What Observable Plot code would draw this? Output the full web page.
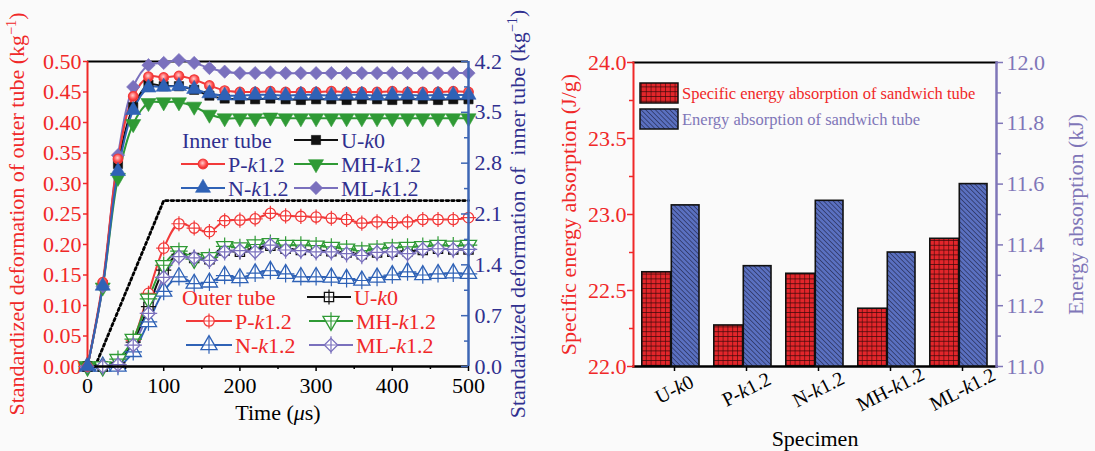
<!DOCTYPE html>
<html><head><meta charset="utf-8">
<script src="https://cdn.jsdelivr.net/npm/d3@7"></script>
<script src="https://cdn.jsdelivr.net/npm/@observablehq/plot@0.6"></script>
<style>
html,body{margin:0;padding:0;background:#fafafa;}
#wrap{position:relative;width:1095px;height:451px;overflow:hidden;}
#wrap svg{position:absolute;top:0;overflow:visible;}
</style></head><body>
<svg width="0" height="0" style="position:absolute">
<defs>
<pattern id="redGrid" patternUnits="userSpaceOnUse" width="4.8" height="4.8">
<rect width="4.8" height="4.8" fill="#e3262b"/>
<path d="M0,0H4.8M0,0V4.8" stroke="#3a0808" stroke-width="1.2"/>
</pattern>
<pattern id="blueHatch" patternUnits="userSpaceOnUse" width="3.4" height="3.4" patternTransform="rotate(-45)">
<rect width="3.4" height="3.4" fill="#5a70c0"/>
<path d="M0,0V3.4" stroke="#151530" stroke-width="1"/>
</pattern>
<radialGradient id="ballRed" cx="45%" cy="40%" r="60%">
<stop offset="0%" stop-color="#ffd0d0"/>
<stop offset="55%" stop-color="#ff5a5a"/>
<stop offset="100%" stop-color="#e82020"/>
</radialGradient>
</defs></svg>
<div id="wrap"></div>
<script>
// ---------------- data ----------------
const time = [0,20,40,60,80,100,120,140,160,180,200,220,240,260,280,300,320,340,360,380,400,420,440,460,480,500];
const names = ["U-k0","P-k1.2","N-k1.2","MH-k1.2","ML-k1.2"];
// inner tube (right axis, kg^-1)
const innerU  = [0,1.12,2.79,3.57,3.88,3.86,3.86,3.81,3.73,3.69,3.68,3.68,3.69,3.68,3.67,3.68,3.68,3.67,3.68,3.68,3.67,3.68,3.68,3.67,3.68,3.68];
const innerP  = [0,1.16,2.86,3.72,3.99,3.98,4.00,3.95,3.87,3.80,3.78,3.78,3.79,3.78,3.78,3.78,3.79,3.78,3.78,3.78,3.79,3.78,3.78,3.78,3.79,3.78];
const innerN  = [0,1.11,2.69,3.53,3.84,3.85,3.86,3.82,3.76,3.73,3.73,3.74,3.74,3.73,3.74,3.74,3.73,3.74,3.74,3.73,3.74,3.74,3.73,3.74,3.74,3.74];
const innerMH = [0,1.09,2.60,3.34,3.63,3.64,3.64,3.58,3.47,3.42,3.42,3.42,3.43,3.42,3.42,3.42,3.42,3.42,3.42,3.42,3.42,3.42,3.42,3.42,3.42,3.42];
const innerML = [0,1.10,2.91,3.85,4.15,4.18,4.22,4.18,4.11,4.06,4.04,4.04,4.05,4.04,4.04,4.04,4.04,4.04,4.04,4.04,4.04,4.04,4.04,4.04,4.04,4.04];
// outer tube (left axis, kg^-1)
const outerU  = [0,0,0.006,0.040,0.098,0.158,0.184,0.178,0.176,0.190,0.188,0.193,0.198,0.193,0.191,0.190,0.189,0.187,0.184,0.187,0.188,0.189,0.191,0.193,0.192,0.192];
const outerP  = [0,0,0.003,0.043,0.120,0.194,0.234,0.227,0.221,0.239,0.240,0.242,0.251,0.247,0.246,0.245,0.243,0.241,0.235,0.237,0.236,0.237,0.241,0.241,0.241,0.244];
const outerN  = [0,0,0,0.024,0.073,0.123,0.147,0.136,0.138,0.149,0.145,0.153,0.157,0.152,0.147,0.147,0.146,0.144,0.141,0.146,0.150,0.155,0.150,0.152,0.153,0.152];
const outerMH = [0,0,0.012,0.045,0.111,0.166,0.189,0.176,0.179,0.197,0.195,0.200,0.202,0.199,0.199,0.198,0.196,0.193,0.190,0.193,0.195,0.196,0.197,0.199,0.198,0.199];
const outerML = [0,0,0.003,0.035,0.087,0.146,0.180,0.178,0.174,0.188,0.190,0.188,0.199,0.191,0.190,0.188,0.188,0.185,0.182,0.187,0.188,0.185,0.192,0.193,0.192,0.192];
// dotted reference line
const refT = [10,100,500];
const refV = [0,0.272,0.272];
// ticks
const outerTicks = [0,0.05,0.10,0.15,0.20,0.25,0.30,0.35,0.40,0.45,0.50];
const innerTicks = [0,0.7,1.4,2.1,2.8,3.5,4.2];
const innerMinor = [0.35,1.05,1.75,2.45,3.15,3.85];
const timeTicks = [0,100,200,300,400,500];
const timeMinor = [50,150,250,350,450];
// bar chart
const specimens = ["U-k0","P-k1.2","N-k1.2","MH-k1.2","ML-k1.2"];
const sea = [22.62,22.27,22.61,22.38,22.84];   // J/g
const ea  = [11.53,11.33,11.545,11.375,11.60]; // kJ
const seaTicks = [22.0,22.5,23.0,23.5,24.0];
const seaMinor = [22.25,22.75,23.25,23.75];
const eaTicks = [11.0,11.2,11.4,11.6,11.8,12.0];
const eaMinor = [11.1,11.3,11.5,11.7,11.9];

// --------------- styles ---------------
const FONT = '"Liberation Serif","Times New Roman",serif';
const RED = "#f02828", BLUEAX = "#3d66b4", NAVY = "#30308f", PURPLE = "#7f76b8";
const colors = {"U-k0":"#111111","P-k1.2":"#f23a3a","N-k1.2":"#2f62b6","MH-k1.2":"#2f9a35","ML-k1.2":"#7a70bd"};
const triDown = {draw(ctx, size){const s3=Math.sqrt(3);const y=-Math.sqrt(size/(s3*3));ctx.moveTo(0,-y*2);ctx.lineTo(-s3*y,y);ctx.lineTo(s3*y,y);ctx.closePath();}};
const innerSym = {"U-k0":"square","P-k1.2":"circle","N-k1.2":"triangle","MH-k1.2":triDown,"ML-k1.2":"diamond2"};
const innerFill = {"U-k0":"#111111","P-k1.2":"url(#ballRed)","N-k1.2":"#2f62b6","MH-k1.2":"#2f9a35","ML-k1.2":"#7a70bd"};
const innerR = {"U-k0":5.2,"P-k1.2":4.8,"N-k1.2":5.6,"MH-k1.2":5.6,"ML-k1.2":6};
const outerSym = {"U-k0":"square","P-k1.2":"circle","N-k1.2":"triangle","MH-k1.2":triDown,"ML-k1.2":"diamond2"};
const outerR = {"U-k0":5.2,"P-k1.2":5.2,"N-k1.2":6,"MH-k1.2":6,"ML-k1.2":6};

const innerValues = [innerU, innerP, innerN, innerMH, innerML];
const outerValues = [outerU, outerP, outerN, outerMH, outerML];
const innerRows = names.map((n,i)=>time.map((t,j)=>({name:n,t,v:innerValues[i][j]})));
const outerRows = names.map((n,i)=>time.map((t,j)=>({name:n,t,v:outerValues[i][j]})));
const refRows = refT.map((t,i)=>({t,v:refV[i]}));

const wrap = document.getElementById("wrap");
const style = {background:"transparent", fontFamily:FONT, fontSize:"22px", color:"black", overflow:"visible"};

// --------------- left chart ---------------
const L = {width:545,height:451,marginLeft:87,marginRight:77,marginTop:61,marginBottom:85};
const outerOrder = [1,2,0,3,4];
const innerOrder = [0,3,4,1,2];

function curveMarks(rows, order, sym, fill, R, open){
  const m = [];
  for (const i of order){
    const n = names[i], d = rows[i];
    m.push(Plot.line(d,{x:"t",y:"v",stroke:colors[n],strokeWidth:2,curve:"catmull-rom"}));
  }
  for (const i of order){
    const n = names[i], d = rows[i];
    if (open){
      m.push(Plot.dot(d,{x:"t",y:"v",symbol:sym[n],r:R[n],fill:"white",stroke:colors[n],strokeWidth:1.3}));
      m.push(Plot.dot(d,{x:"t",y:"v",symbol:"plus",r:R[n]*0.95,fill:"none",stroke:colors[n],strokeWidth:1.2}));
    } else {
      m.push(Plot.dot(d,{x:"t",y:"v",symbol:sym[n],r:R[n],fill:fill[n],stroke:colors[n],strokeWidth:n==="P-k1.2"?1.2:0.6}));
    }
  }
  return m;
}

const plotOuter = Plot.plot({
  ...L, style,
  x:{domain:[0,500]}, y:{domain:[0,0.5]},
  marks:[
    Plot.ruleY([0.5],{stroke:"black",strokeWidth:2}),
    Plot.axisY({ticks:outerTicks,tickFormat:d3.format(".2f"),color:RED,tickSize:4,tickPadding:2,strokeWidth:1.5,
      label:"Standardized deformation of outer tube (kg−1)",labelAnchor:"center",labelOffset:79,labelArrow:"none"}),
    Plot.axisX({ticks:timeTicks,tickFormat:d=>String(d),tickSize:5,tickPadding:6,strokeWidth:1.5,
      label:"Time (μs)",labelAnchor:"center",labelOffset:53,labelArrow:"none"}),
    Plot.axisX({ticks:timeMinor,tickSize:3,text:null,label:null,strokeWidth:1.5}),
    Plot.line(refRows,{x:"t",y:"v",stroke:"black",strokeWidth:2.8,strokeDasharray:"2.5,3"}),
    ...curveMarks(outerRows, outerOrder, outerSym, null, outerR, true),
    Plot.ruleY([0],{stroke:"black",strokeWidth:2.5}),
    Plot.ruleX([0],{stroke:RED,strokeWidth:2})
  ]
});
const plotInner = Plot.plot({
  ...L, style,
  x:{domain:[0,500],axis:null}, y:{domain:[0,4.2],axis:null},
  marks:[
    ...curveMarks(innerRows, innerOrder, innerSym, innerFill, innerR, false),
    Plot.ruleY(innerTicks,{stroke:BLUEAX,strokeWidth:1.5,insetLeft:374}),
    Plot.ruleY(innerMinor,{stroke:BLUEAX,strokeWidth:1.5,insetLeft:377}),
    Plot.axisY({anchor:"right",ticks:innerTicks,tickFormat:d3.format(".1f"),tickSize:0,tickPadding:6,fill:NAVY,
      label:"Standardized deformation of  inner tube (kg−1)",labelAnchor:"center",labelOffset:56,labelArrow:"none"}),
    Plot.ruleX([500],{stroke:BLUEAX,strokeWidth:2.5})
  ]
});

// --------------- right chart ---------------
const R = {width:550,height:451,marginLeft:88,marginRight:99,marginTop:62,marginBottom:85};
const xBand = {type:"band",domain:specimens,paddingInner:0,paddingOuter:0};
const seaRows = specimens.map((s,i)=>({s,v:sea[i]}));
const eaRows = specimens.map((s,i)=>({s,v:ea[i]}));
const plotSEA = Plot.plot({
  ...R, style,
  x:xBand, y:{domain:[seaTicks[0],seaTicks[seaTicks.length-1]]},
  marks:[
    Plot.barY(seaRows,{x:"s",y1:seaTicks[0],y2:"v",fill:"url(#redGrid)",stroke:"#111",strokeWidth:1.6,insetLeft:6.8,insetRight:36.3}),
    Plot.frame({anchor:"top",stroke:"black",strokeWidth:2}),
    Plot.frame({anchor:"bottom",stroke:"black",strokeWidth:2.5}),
    Plot.frame({anchor:"left",stroke:RED,strokeWidth:2}),
    Plot.axisY({ticks:seaTicks,tickFormat:d3.format(".1f"),color:RED,tickSize:6,tickPadding:1,strokeWidth:1.5,
      label:"Specific energy absorption (J/g)",labelAnchor:"center",labelOffset:73,labelArrow:"none"}),
    Plot.axisY({ticks:seaMinor,tickSize:4,text:null,label:null,color:RED,strokeWidth:1.5}),
    Plot.axisX({tickSize:5,tickRotate:-27,textAnchor:"middle",tickPadding:18,strokeWidth:1.5,fontSize:20,dx:3,
      label:null}),
    Plot.axisX({tickSize:0,text:null,
      label:"Specimen",labelAnchor:"center",labelOffset:79,labelArrow:"none"})
  ]
});
const plotEA = Plot.plot({
  ...R, style,
  x:{...xBand,axis:null}, y:{domain:[eaTicks[0],eaTicks[eaTicks.length-1]],axis:null},
  marks:[
    Plot.barY(eaRows,{x:"s",y1:eaTicks[0],y2:"v",fill:"url(#blueHatch)",stroke:"#111",strokeWidth:1.6,insetLeft:36.3,insetRight:8}),
    Plot.frame({anchor:"right",stroke:PURPLE,strokeWidth:2.5}),
    Plot.axisY({anchor:"right",ticks:eaTicks,tickFormat:d3.format(".1f"),color:PURPLE,tickSize:6,tickPadding:4,strokeWidth:1.5,
      label:"Energy absorption (kJ)",labelAnchor:"center",labelOffset:86,labelArrow:"none"}),
    Plot.axisY({anchor:"right",ticks:eaMinor,tickSize:4,text:null,label:null,color:PURPLE,strokeWidth:1.5})
  ]
});

for (const [p,left] of [[plotOuter,0],[plotInner,0],[plotSEA,545],[plotEA,545]]){
  p.style.left = left+"px";
  wrap.appendChild(p);
}

// --------------- rich text (italic k, superscript, italic mu) ---------------
const NS = "http://www.w3.org/2000/svg";
function addSpan(el, txt, attrs){
  const t = document.createElementNS(NS,"tspan");
  t.textContent = txt;
  if (attrs) for (const k in attrs) t.setAttribute(k, attrs[k]);
  el.appendChild(t);
}
function fillRich(el, s){
  el.textContent = "";
  for (const tk of s.split(/(−1\)|-k|μ)/)){
    if (!tk) continue;
    if (tk === "−1)"){ addSpan(el,"−1",{"baseline-shift":"super","font-size":"65%"}); addSpan(el,")"); }
    else if (tk === "-k"){ addSpan(el,"-"); addSpan(el,"k",{"font-style":"italic"}); }
    else if (tk === "μ"){ addSpan(el,"μ",{"font-style":"italic"}); }
    else addSpan(el, tk);
  }
}
function richify(svg){
  svg.querySelectorAll("text, tspan").forEach(el=>{
    if (el.children.length) return;
    const s = el.textContent;
    if (/−1\)|-k|μ/.test(s)) fillRich(el, s);
  });
}
[plotOuter,plotInner,plotSEA,plotEA].forEach(richify);

// --------------- legends (left chart) ---------------
function legend(svg, title, titleColor, entries, textColor, open){
  const g = d3.select(svg).append("g").attr("font-family",FONT).attr("font-size",22).attr("text-anchor","start");
  g.append("text").attr("x",title.x).attr("y",title.y).attr("dy","0.35em").attr("fill",titleColor).text(title.text);
  for (const e of entries){
    const c = colors[e.name];
    g.append("line").attr("x1",e.x).attr("x2",e.x+e.len).attr("y1",e.y).attr("y2",e.y).attr("stroke",c).attr("stroke-width",2);
    const cx = e.x+e.len/2;
    const symName = open ? outerSym[e.name] : innerSym[e.name];
    const r = open ? outerR[e.name] : innerR[e.name];
    const symMap = {square:d3.symbolSquare,circle:d3.symbolCircle,triangle:d3.symbolTriangle,diamond2:d3.symbolDiamond2};
    const st = typeof symName === "string" ? symMap[symName] : symName;
    const path = d3.symbol().type(st).size(Math.PI*r*r)();
    if (open){
      g.append("path").attr("d",path).attr("transform",`translate(${cx},${e.y})`).attr("fill","white").attr("stroke",c).attr("stroke-width",1.3);
      g.append("path").attr("d",d3.symbol().type(d3.symbolPlus).size(Math.PI*r*r*0.9)()).attr("transform",`translate(${cx},${e.y})`).attr("fill","none").attr("stroke",c).attr("stroke-width",1.2);
    } else {
      g.append("path").attr("d",path).attr("transform",`translate(${cx},${e.y})`).attr("fill",innerFill[e.name]).attr("stroke",c).attr("stroke-width",e.name==="P-k1.2"?1.2:0.6);
    }
    const t = g.append("text").attr("x",e.x+e.len+3).attr("y",e.y).attr("dy","0.35em").attr("fill",textColor).node();
    fillRich(t, e.name);
  }
}
legend(plotInner, {text:"Inner tube",x:182,y:140}, NAVY, [
  {name:"U-k0",x:294,y:140,len:44},
  {name:"P-k1.2",x:181,y:164,len:44},
  {name:"MH-k1.2",x:294,y:164,len:44},
  {name:"N-k1.2",x:181,y:188,len:44},
  {name:"ML-k1.2",x:294,y:188,len:44}
], NAVY, false);
legend(plotOuter, {text:"Outer tube",x:182,y:297}, RED, [
  {name:"U-k0",x:307,y:297,len:44},
  {name:"P-k1.2",x:186,y:321,len:46},
  {name:"MH-k1.2",x:309,y:321,len:44},
  {name:"N-k1.2",x:186,y:345,len:46},
  {name:"ML-k1.2",x:309,y:345,len:44}
], RED, true);

// --------------- legend (right chart) ---------------
{
  const g = d3.select(plotSEA).append("g").attr("font-family",FONT).attr("font-size",16.5).attr("text-anchor","start");
  g.append("rect").attr("x",95).attr("y",83).attr("width",38).attr("height",20).attr("fill","url(#redGrid)").attr("stroke","#111").attr("stroke-width",1.5);
  g.append("text").attr("x",137).attr("y",93).attr("dy","0.35em").attr("fill",RED).text("Specific energy absorption of sandwich tube");
  g.append("rect").attr("x",95).attr("y",109).attr("width",38).attr("height",20).attr("fill","url(#blueHatch)").attr("stroke","#111").attr("stroke-width",1.5);
  g.append("text").attr("x",137).attr("y",119).attr("dy","0.35em").attr("fill",PURPLE).text("Energy absorption of sandwich tube");
}
</script>
</body></html>
